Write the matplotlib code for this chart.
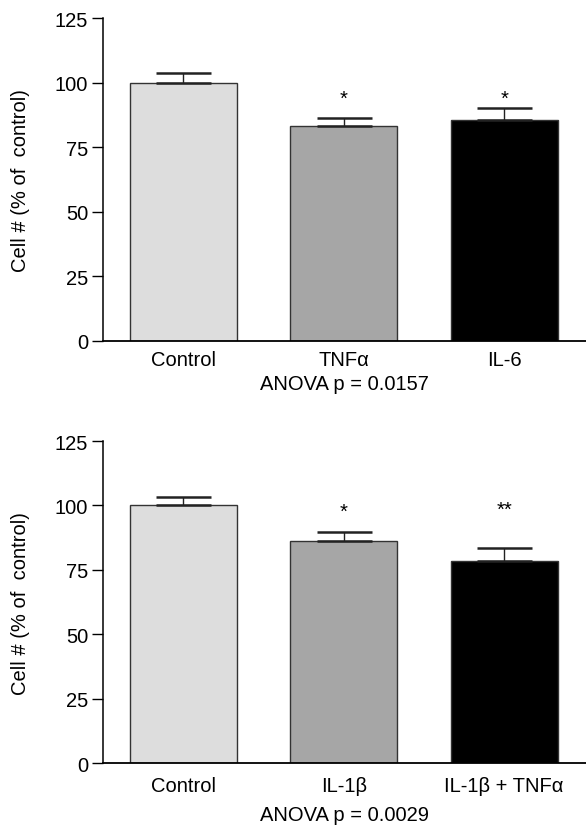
import matplotlib
matplotlib.use('Agg')
from matplotlib import pyplot as plt

plt.rcParams['font.family'] = ['Liberation Sans', 'DejaVu Sans']

# Panel oben
namn_a = ['Control', 'TNF\u03b1', 'IL-6']
verdi_a = [100.0, 83.0, 85.7]
feil_a = [3.7, 3.2, 4.3]
stjerne_a = ['', '*', '*']
p_a = 'ANOVA p = 0.0157'

# Panel unten
namn_b = ['Control', 'IL-1\u03b2', 'IL-1\u03b2 + TNF\u03b1']
verdi_b = [100.0, 86.4, 78.4]
feil_b = [3.4, 3.5, 5.3]
stjerne_b = ['', '*', '**']
p_b = 'ANOVA p = 0.0029'

farger = ['#dddddd', '#a6a6a6', '#000000']
fs = 14.5

fig = plt.figure(figsize=(5.86, 8.29), dpi=100)
ax1 = fig.add_axes([0.1763, 0.5878, 0.8237, 0.3892])
ax2 = fig.add_axes([0.1763, 0.0780, 0.8237, 0.3888])


def tegn(ax, namn, verdi, feil, stjerne, ptekst, stjerne_y, xpad, ppad):
    x = range(len(namn))
    ax.bar(x, verdi, width=0.665, color=farger, edgecolor='#333333', linewidth=1.0,
           yerr=[[0] * len(feil), feil], error_kw=dict(ecolor='#222222', elinewidth=1.0,
                                                       capsize=19.8, capthick=1.8))
    for i, s in enumerate(stjerne):
        if s:
            ax.text(i, stjerne_y[i], s, ha='center', va='baseline', fontsize=fs)
    ax.set_xlim(-0.498, 2.51)
    ax.set_ylim(0, 125)
    ax.set_yticks([0, 25, 50, 75, 100, 125])
    ax.set_xticks(list(x))
    ax.set_xticklabels(namn, fontsize=fs)
    ax.tick_params(axis='y', direction='out', length=8, width=1.0, labelsize=fs, pad=3)
    ax.tick_params(axis='x', length=0, pad=xpad)
    ax.spines['top'].set_visible(False)
    ax.spines['right'].set_visible(False)
    ax.spines['left'].set_linewidth(1.1)
    ax.spines['bottom'].set_linewidth(1.3)
    ax.set_ylabel('Cell # (% of  control)', fontsize=fs)
    ax.yaxis.set_label_coords(-0.152, 0.5)
    ax.set_xlabel(ptekst, fontsize=fs, labelpad=ppad)


tegn(ax1, namn_a, verdi_a, feil_a, stjerne_a, p_a, [0, 91.6, 91.6], 7, 3)
tegn(ax2, namn_b, verdi_b, feil_b, stjerne_b, p_b, [0, 95.5, 96.2], 9, 7)

fig.savefig('out.png', dpi=100)
